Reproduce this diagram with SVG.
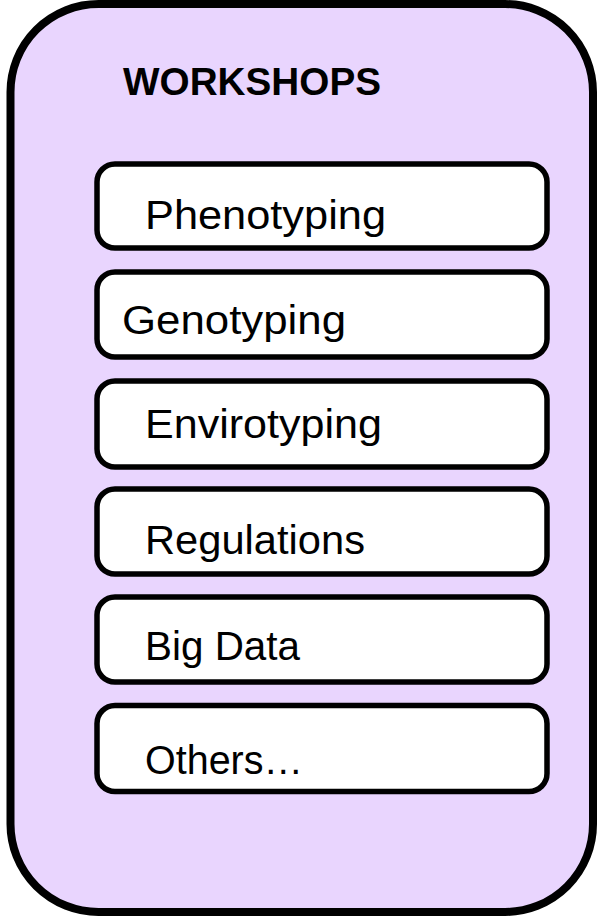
<svg xmlns="http://www.w3.org/2000/svg" width="605" height="917" viewBox="0 0 605 917">
<style>
.outer{fill:#E9D5FE;stroke:#000;stroke-width:8}
.box{fill:#fff;stroke:#000;stroke-width:5.5}
.lbl{font-family:"Liberation Sans",Arial,sans-serif;font-size:41px;fill:#000}
.title{font-family:"Liberation Sans",Arial,sans-serif;font-size:39px;font-weight:bold;fill:#000}
</style>
<g id="workshops">
<rect class="outer" x="10.5" y="4" width="582.5" height="908" rx="88" ry="88"/>
<text class="title" x="123" y="95" textLength="258" lengthAdjust="spacingAndGlyphs">WORKSHOPS</text>
</g>
<g id="phenotyping">
<rect class="box" x="97" y="164" width="450" height="84" rx="18" ry="18"/>
<text class="lbl" x="145" y="229" textLength="241" lengthAdjust="spacingAndGlyphs">Phenotyping</text>
</g>
<g id="genotyping">
<rect class="box" x="97" y="272" width="450" height="85" rx="18" ry="18"/>
<text class="lbl" x="122" y="334" textLength="224" lengthAdjust="spacingAndGlyphs">Genotyping</text>
</g>
<g id="envirotyping">
<rect class="box" x="97" y="381" width="450" height="86" rx="18" ry="18"/>
<text class="lbl" x="145" y="438" textLength="237" lengthAdjust="spacingAndGlyphs">Envirotyping</text>
</g>
<g id="regulations">
<rect class="box" x="97" y="489" width="450" height="85" rx="18" ry="18"/>
<text class="lbl" x="145" y="554" textLength="220" lengthAdjust="spacingAndGlyphs">Regulations</text>
</g>
<g id="bigdata">
<rect class="box" x="97" y="597" width="450" height="85" rx="18" ry="18"/>
<text class="lbl" x="145" y="660" textLength="155" lengthAdjust="spacingAndGlyphs">Big Data</text>
</g>
<g id="others">
<rect class="box" x="97" y="705.5" width="450" height="86" rx="18" ry="18"/>
<text class="lbl" x="145" y="774" textLength="158" lengthAdjust="spacingAndGlyphs">Others…</text>
</g>
<g id="connectors"></g>
</svg>
